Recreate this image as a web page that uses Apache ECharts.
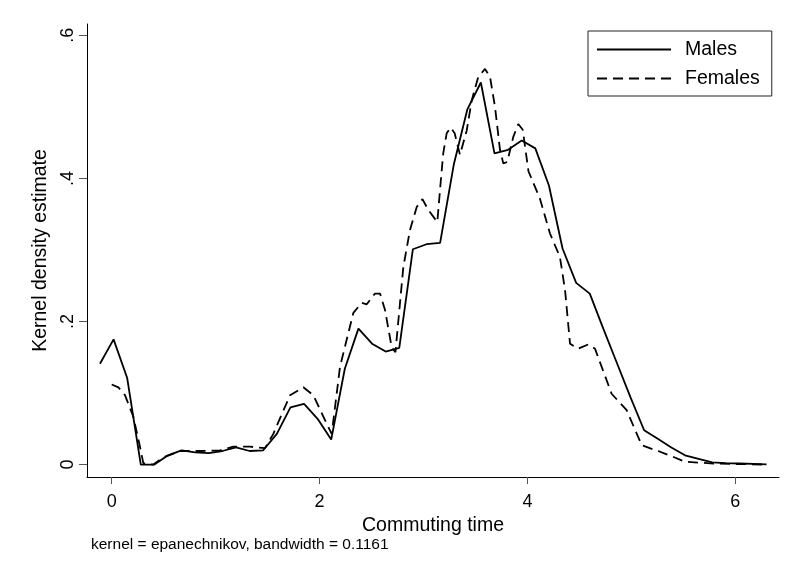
<!DOCTYPE html>
<html><head><meta charset="utf-8">
<script src="https://cdn.jsdelivr.net/npm/echarts@6/dist/echarts.min.js"></script>
<style>html,body{margin:0;padding:0;background:#fff}#c{width:788px;height:576px}</style>
</head><body><div id="c"></div>
<script>
// Data
const maleX = [-0.113,0.018,0.149,0.280,0.411,0.542,0.672,0.803,0.934,1.065,1.196,1.327,1.458,1.589,1.720,1.851,1.981,2.112,2.243,2.374,2.505,2.636,2.767,2.898,3.029,3.160,3.291,3.421,3.552,3.683,3.814,3.945,4.076,4.207,4.338,4.469,4.600,4.730,4.861,4.992,5.123,5.254,5.385,5.516,5.647,5.778,5.908,6.039,6.170,6.301];
const maleY = [0.141,0.175,0.121,0.000,0.000,0.013,0.020,0.017,0.016,0.019,0.024,0.019,0.020,0.043,0.080,0.085,0.064,0.035,0.134,0.190,0.169,0.158,0.163,0.301,0.308,0.310,0.419,0.496,0.534,0.435,0.440,0.453,0.442,0.390,0.302,0.254,0.239,0.190,0.142,0.094,0.048,0.036,0.024,0.013,0.008,0.003,0.002,0.0015,0.001,0.0003];
const femaleX = [0.000,0.064,0.128,0.208,0.272,0.304,0.400,0.497,0.657,0.850,1.042,1.170,1.330,1.475,1.555,1.716,1.844,1.940,2.069,2.117,2.197,2.325,2.405,2.454,2.533,2.582,2.630,2.694,2.730,2.806,2.870,2.935,2.990,3.046,3.133,3.159,3.190,3.223,3.262,3.300,3.351,3.416,3.464,3.527,3.592,3.640,3.688,3.736,3.768,3.806,3.864,3.912,3.955,4.010,4.120,4.217,4.313,4.362,4.410,4.490,4.586,4.650,4.810,4.955,5.100,5.276,5.400,5.516,5.790,6.300];
const femaleY = [0.112,0.108,0.097,0.067,0.025,0.002,0.000,0.010,0.019,0.019,0.020,0.025,0.025,0.023,0.043,0.097,0.108,0.097,0.057,0.043,0.137,0.212,0.226,0.224,0.239,0.239,0.216,0.164,0.157,0.276,0.328,0.360,0.371,0.356,0.339,0.384,0.435,0.463,0.471,0.463,0.433,0.467,0.509,0.542,0.553,0.542,0.500,0.440,0.421,0.423,0.458,0.476,0.468,0.410,0.372,0.323,0.290,0.244,0.169,0.162,0.168,0.162,0.099,0.076,0.027,0.018,0.011,0.004,0.0014,0.000];
const seriesNames = ['Males', 'Females'];
const xTickValues = [0, 2, 4, 6];
const xTickLabels = ['0', '2', '4', '6'];
const yTickValues = [0, 0.2, 0.4, 0.6];
const yTickLabels = ['0', '.2', '.4', '.6'];
const xTitle = 'Commuting time';
const yTitle = 'Kernel density estimate';
const note = 'kernel = epanechnikov, bandwidth = 0.1161';

const FONT = '"Liberation Sans", Arial, Helvetica, sans-serif';
function pick(vals, labels, v) {
  const i = vals.findIndex(t => Math.abs(t - v) < 1e-9);
  return i >= 0 ? labels[i] : '';
}
const chart = echarts.init(document.getElementById('c'), null, {renderer: 'canvas'});
chart.setOption({
  animation: false,
  backgroundColor: '#fff',
  textStyle: {fontFamily: FONT, color: '#000'},
  grid: {left: 87, right: 9, top: 24, bottom: 99, containLabel: false, outerBoundsMode: 'none'},
  legend: {
    show: true, orient: 'vertical', left: 588, top: 31,
    padding: [8.5, 12, 7.5, 8],
    borderColor: '#222', borderWidth: 1,
    itemWidth: 74, itemHeight: 14, itemGap: 9,
    itemStyle: {opacity: 0},
    textStyle: {fontFamily: FONT, fontSize: 19.5, color: '#000', lineHeight: 20, padding: [0, 0, 0, 9]},
    data: seriesNames
  },
  xAxis: {
    type: 'value', min: -0.2377, max: 6.4207,
    name: xTitle, nameLocation: 'middle', nameGap: 31,
    nameTextStyle: {fontFamily: FONT, fontSize: 19.5, color: '#000'},
    axisLine: {show: true, onZero: false, lineStyle: {color: '#000', width: 1}},
    axisTick: {show: true, customValues: xTickValues, length: 7, lineStyle: {color: '#555', width: 1}},
    axisLabel: {show: true, customValues: xTickValues, margin: 16, fontFamily: FONT, fontSize: 18, color: '#000',
      formatter: v => pick(xTickValues, xTickLabels, v)},
    splitLine: {show: false}
  },
  yAxis: {
    type: 'value', min: -0.01734, max: 0.6158,
    name: yTitle, nameLocation: 'middle', nameGap: 30, nameRotate: 90,
    nameTextStyle: {fontFamily: FONT, fontSize: 19.5, color: '#000'},
    axisLine: {show: true, onZero: false, lineStyle: {color: '#000', width: 1}},
    axisTick: {show: true, customValues: yTickValues, length: 8, lineStyle: {color: '#555', width: 1}},
    axisLabel: {show: true, customValues: yTickValues, rotate: 90, margin: 10, fontFamily: FONT, fontSize: 18, color: '#000',
      formatter: v => pick(yTickValues, yTickLabels, v)},
    splitLine: {show: false}
  },
  series: [
    {name: seriesNames[0], type: 'line', symbol: 'none', smooth: false,
     lineStyle: {color: '#000', width: 1.8, type: 'solid'}, itemStyle: {color: '#000'},
     data: maleX.map((x, i) => [x, maleY[i]])},
    {name: seriesNames[1], type: 'line', symbol: 'none', smooth: false,
     lineStyle: {color: '#000', width: 1.8, type: [10, 6]}, itemStyle: {color: '#000'},
     data: femaleX.map((x, i) => [x, femaleY[i]])}
  ],
  graphic: [
    {type: 'text', left: 91, top: 537, style: {text: note, fontFamily: FONT, fontSize: 15.5, fill: '#000'}}
  ]
});
</script>
</body></html>
